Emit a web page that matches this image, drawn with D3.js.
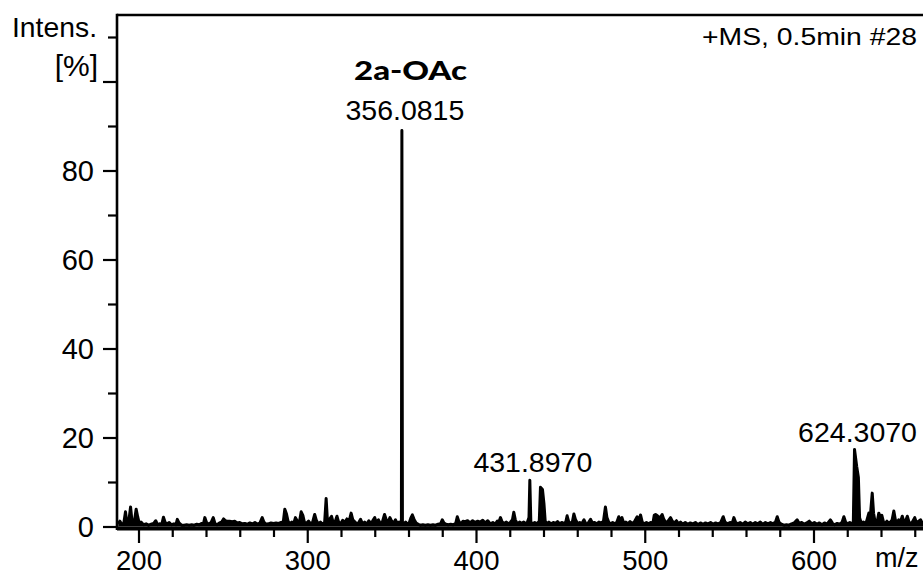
<!DOCTYPE html>
<html>
<head>
<meta charset="utf-8">
<script src="https://cdn.jsdelivr.net/npm/d3@7/dist/d3.min.js"></script>
<style>
  html, body { margin: 0; padding: 0; background: #fff; }
  svg { display: block; }
  text { font-family: "Liberation Sans", Arial, sans-serif; fill: #000; }
</style>
</head>
<body>
<svg id="chart" width="923" height="574"></svg>
<script>
// Profile spectrum: [m/z, relative intensity %]
const profile = [
  [188, 0.6], [189, 1.2], [190, 0.5], [191.3, 0.8], [192.3, 3.3], [193.2, 0.6], [194.2, 1.0],
  [195.3, 4.4], [196.2, 1.0], [197.4, 0.7], [198.6, 3.9], [199.5, 2.2], [200.5, 0.6], [201.5, 1.0],
  [203, 0.4], [204.5, 0.6], [206, 0.3], [207.5, 0.5], [209, 0.7], [210.2, 1.3], [211.3, 0.4],
  [212.5, 0.6], [213.8, 0.5], [214.8, 2.1], [215.8, 0.9], [217, 0.6], [218.2, 0.9], [219.5, 0.4],
  [221, 0.6], [222.2, 0.4], [223, 1.6], [224, 0.8], [225.5, 0.3], [227, 0.3], [228.5, 0.4],
  [230, 0.3], [231.5, 0.4], [233, 0.3], [234.5, 0.5], [236, 0.4], [237.5, 0.7], [238.5, 0.6],
  [239.3, 2.0], [240.3, 0.9], [241.5, 0.5], [243, 0.9], [244.3, 2.0], [245.3, 0.7], [246.5, 0.4],
  [248, 0.8], [249.3, 1.0], [250.4, 1.7], [251.5, 1.3], [252.5, 1.2], [254, 1.2], [255.5, 1.1],
  [257, 1.2], [258.5, 0.8], [260, 0.9], [261.5, 0.6], [263, 0.7], [264.5, 0.5], [266, 0.8],
  [267.5, 0.6], [269, 0.9], [270.5, 0.5], [272, 0.8], [273.3, 2.0], [274.3, 1.0], [275.5, 0.5],
  [277, 0.6], [278.5, 0.8], [280, 0.7], [281.5, 0.8], [283, 0.7], [284.5, 0.9], [285.8, 1.0],
  [286.7, 3.9], [287.7, 2.8], [288.6, 1.2], [289.6, 0.6], [290.8, 1.0], [292, 0.7], [293, 2.0],
  [294, 1.3], [295.2, 0.6], [296.4, 3.3], [297.4, 2.5], [298.3, 1.0], [299.5, 0.7], [300.8, 1.2],
  [302, 0.6], [303.2, 1.0], [304.4, 2.7], [305.3, 1.5], [306.5, 0.6], [307.8, 1.0], [309, 0.5],
  [310.3, 0.9], [311.2, 6.3], [312, 1.0], [313, 1.5], [314.4, 2.3], [315.4, 0.8], [316.5, 1.0],
  [317.6, 2.3], [318.6, 1.0], [319.8, 0.6], [321, 1.4], [322.2, 0.9], [323.5, 1.7], [324.7, 1.0],
  [326, 3.0], [327, 1.5], [328.3, 1.0], [329.5, 0.5], [330.5, 0.9], [331.6, 1.6], [332.8, 0.6],
  [334, 1.0], [335.3, 0.5], [336.5, 1.3], [337.5, 0.7], [338.7, 1.2], [340, 2.0], [341, 0.8],
  [342.2, 1.5], [343.3, 0.7], [344.5, 1.0], [345.8, 2.7], [346.8, 1.5], [347.8, 0.8], [349, 2.0],
  [350, 1.2], [351, 0.6], [352.3, 1.5], [353.4, 0.7], [354.5, 1.0], [355.5, 0.6], [355.8, 1.0],
  [356.08, 89.0], [356.4, 1.0], [357.2, 0.6], [358.3, 1.0], [359.5, 0.5], [360.5, 0.9], [361.5, 2.0],
  [362.3, 2.6], [363.3, 1.6], [364.5, 0.8], [365.8, 0.5], [367, 0.3], [368.5, 0.4], [370, 0.3],
  [371.5, 0.4], [373, 0.3], [374.5, 0.4], [376, 0.3], [377.5, 0.5], [379, 0.6], [380, 1.5],
  [381, 0.8], [382.3, 0.5], [383.5, 0.4], [385, 0.5], [386.5, 0.4], [388, 0.7], [388.9, 2.2],
  [389.8, 1.2], [391, 0.5], [392.3, 1.2], [393.5, 1.1], [395, 1.3], [396.5, 0.8], [398, 1.3],
  [399.5, 0.9], [401, 1.2], [402.5, 1.0], [404, 1.4], [405.5, 0.8], [407, 1.3], [408.5, 0.6],
  [410, 0.9], [411.3, 0.5], [412.6, 1.2], [413.6, 1.0], [414.5, 2.0], [415.5, 1.0], [416.8, 0.7],
  [418, 1.0], [419.3, 0.6], [420.5, 1.0], [421.6, 1.5], [422.4, 3.2], [423.3, 1.5], [424.5, 0.6],
  [425.8, 1.0], [427, 0.7], [428.3, 1.0], [429.3, 0.6], [430.5, 1.0], [431.4, 2.0], [431.897, 10.4],
  [432.5, 1.0], [433.5, 0.6], [434.8, 0.9], [436, 0.6], [437.5, 1.2], [438.2, 8.8], [439.4, 8.3],
  [440.3, 5.0], [441, 1.2], [442, 0.6], [443.2, 1.0], [444.5, 0.6], [445.8, 0.9], [447, 0.7],
  [448.3, 1.1], [449.5, 0.6], [450.8, 0.9], [452, 0.7], [453.2, 1.0], [454, 2.4], [455, 1.0],
  [456.2, 0.7], [457.2, 1.2], [458, 2.8], [459, 1.5], [460.3, 0.6], [461.5, 0.9], [462.7, 0.6],
  [464, 1.5], [465, 0.7], [466.2, 0.6], [467.9, 1.6], [469, 0.8], [470.3, 0.9], [471.5, 0.6],
  [472.8, 1.0], [474, 0.8], [475.5, 1.1], [476.7, 4.4], [477.6, 2.0], [478.6, 1.0], [479.8, 0.6],
  [481, 0.9], [482.3, 0.6], [483.5, 1.0], [484.6, 2.2], [485.5, 1.2], [486.5, 2.0], [487.5, 0.8],
  [488.8, 1.0], [490, 0.6], [491.3, 1.1], [492.5, 0.7], [493.8, 1.0], [495.5, 2.2], [496.5, 1.0],
  [497.5, 2.6], [498.5, 1.0], [499.8, 0.6], [501, 0.9], [502.3, 0.6], [503.5, 0.9], [504.8, 0.7],
  [505.6, 2.5], [506.4, 2.7], [507.5, 2.4], [508.5, 2.0], [509.5, 2.2], [510.3, 2.7], [511.3, 1.6],
  [512.5, 0.9], [513.8, 1.2], [515.3, 2.0], [516.3, 1.2], [517.5, 0.8], [518.8, 1.3], [520, 0.6],
  [521.2, 1.0], [522.5, 0.5], [524, 0.9], [525.5, 0.5], [527, 0.8], [528.5, 0.6], [530, 0.9],
  [531.5, 0.4], [533, 0.8], [534.5, 0.5], [536, 0.8], [537.5, 0.6], [539, 0.9], [540.5, 0.5],
  [542, 0.8], [543.5, 0.6], [545, 0.9], [546.5, 2.2], [547.5, 1.0], [549, 0.6], [550.5, 0.9],
  [551.8, 0.7], [552.8, 2.0], [553.8, 1.0], [555, 0.6], [556.5, 0.9], [558, 0.5], [559.5, 1.0],
  [561, 0.6], [562.5, 0.9], [564, 0.5], [565.5, 0.9], [567, 0.6], [568.5, 1.0], [570, 0.5],
  [571.5, 0.9], [573, 0.6], [574.5, 0.9], [576, 0.6], [577.5, 1.0], [578.5, 2.2], [579.5, 1.0],
  [581, 0.5], [582.5, 0.3], [584, 0.4], [585.5, 0.3], [587, 0.6], [588.5, 0.8], [590.3, 1.5],
  [591.5, 0.7], [593, 0.9], [594.5, 0.5], [596, 0.8], [597.5, 1.2], [599, 0.6], [600.5, 0.9],
  [602, 0.5], [603.5, 0.8], [605, 0.4], [606.5, 0.8], [608, 0.5], [610, 1.5], [611.3, 0.7],
  [612.5, 0.4], [614, 0.7], [615.5, 0.5], [617, 1.0], [618, 2.2], [619, 1.0], [620.3, 0.6],
  [621.5, 0.9], [622.5, 0.6], [623.6, 1.0], [624.307, 17.3], [625.6, 13.5], [626.6, 11.0],
  [627.3, 2.0], [628.3, 0.8], [629.5, 1.0], [630.5, 0.7], [631.5, 1.2], [632.8, 3.0], [633.6, 2.0],
  [634.8, 7.5], [635.6, 3.0], [636.5, 1.0], [637.8, 1.2], [638.7, 3.0], [639.7, 2.0], [640.5, 2.5],
  [641.5, 1.0], [642.5, 0.8], [643.5, 1.2], [644.5, 0.7], [645.6, 1.0], [646.6, 1.5], [647.6, 3.5],
  [648.5, 1.5], [649.5, 0.8], [650.5, 1.5], [651.5, 1.0], [652.6, 2.3], [653.6, 1.0], [654.6, 1.3],
  [655.6, 2.3], [656.6, 1.0], [657.6, 0.6], [658.6, 1.0], [660, 2.0], [661, 0.8], [662.3, 1.2],
  [663.5, 1.5], [664.5, 0.7], [665.5, 1.0]
];

// Annotated peaks: m/z and intensity (%)
const peakMz = [356.0815, 431.8970, 624.3070];
const peakIntensity = [89.0, 10.4, 17.3];
const peakText = ["356.0815", "431.8970", "624.3070"];

const xMajorTicks = [200, 300, 400, 500, 600];
const xMinorTicks = [220, 240, 260, 280, 320, 340, 360, 380, 420, 440, 460, 480,
                     520, 540, 560, 580, 620, 640, 660];
const yMajorTicks = [0, 20, 40, 60, 80, 100];
const yMinorTicks = [10, 30, 50, 70, 90, 110];

const compoundLabel = "2a-OAc";
const scanLabel = "+MS, 0.5min #28";
const xAxisTitle = "m/z";
const yAxisTitle = ["Intens.", "[%]"];

const svg = d3.select("#chart");
const H = 574;
const plotLeft = 117, plotTop = 15, plotRight = 930, baseY = 526.5;

const x = d3.scaleLinear().domain([200, 600]).range([138.5, 813.5]);
const y = d3.scaleLinear().domain([0, 100]).range([baseY, baseY - 445]);

svg.append("defs").append("clipPath").attr("id", "plotClip")
  .append("rect").attr("x", plotLeft).attr("y", plotTop)
  .attr("width", plotRight - plotLeft).attr("height", H - plotTop);

// Spectrum: filled profile with a heavy outline
const plot = svg.append("g").attr("clip-path", "url(#plotClip)");
const area = d3.area().x(d => x(d[0])).y0(y(0)).y1(d => y(d[1]));
const line = d3.line().x(d => x(d[0])).y(d => y(d[1]));
plot.append("path").datum(profile).attr("d", area).attr("fill", "#000");
plot.append("path").datum(profile).attr("d", line)
  .attr("fill", "none").attr("stroke", "#000").attr("stroke-width", 3).attr("stroke-linejoin", "round");
plot.append("line").attr("x1", plotLeft).attr("x2", plotRight)
  .attr("y1", y(0) + 2).attr("y2", y(0) + 2)
  .attr("stroke", "#000").attr("stroke-width", 4);

// X axis (ticks below the baseline)
const xAxisY = 530;
const gxMaj = svg.append("g").attr("transform", `translate(0,${xAxisY})`)
  .call(d3.axisBottom(x).tickValues(xMajorTicks).tickSize(13).tickFormat(d3.format("d")));
const gxMin = svg.append("g").attr("transform", `translate(0,${xAxisY})`)
  .call(d3.axisBottom(x).tickValues(xMinorTicks).tickSize(7).tickFormat(""));
[gxMaj, gxMin].forEach(g => {
  g.select(".domain").remove();
  g.selectAll(".tick line").attr("stroke", "#000").attr("stroke-width", 2.2);
});
gxMaj.selectAll(".tick text").attr("y", 39.5).attr("dy", 0)
  .style("font-size", "27.5px").attr("fill", "#000");

// Y axis
const gyMaj = svg.append("g").attr("transform", `translate(${plotLeft},0)`)
  .call(d3.axisLeft(y).tickValues(yMajorTicks).tickSize(14).tickPadding(9)
    .tickFormat(d => d <= 80 ? d : ""));
const gyMin = svg.append("g").attr("transform", `translate(${plotLeft},0)`)
  .call(d3.axisLeft(y).tickValues(yMinorTicks).tickSize(9).tickFormat(""));
[gyMaj, gyMin].forEach(g => {
  g.select(".domain").remove();
  g.selectAll(".tick line").attr("stroke", "#000").attr("stroke-width", 2.2);
});
gyMaj.selectAll(".tick text").attr("dy", "0.36em").style("font-size", "29px").attr("fill", "#000");

// Frame: left axis and top border
svg.append("line").attr("x1", plotLeft).attr("x2", plotLeft).attr("y1", plotTop - 1.2).attr("y2", xAxisY)
  .attr("stroke", "#000").attr("stroke-width", 2.6);
svg.append("line").attr("x1", plotLeft).attr("x2", plotRight).attr("y1", plotTop).attr("y2", plotTop)
  .attr("stroke", "#000").attr("stroke-width", 2.6);

// Axis titles
svg.append("text").attr("x", 97).attr("y", 37).attr("text-anchor", "end")
  .attr("textLength", 85).attr("lengthAdjust", "spacingAndGlyphs")
  .style("font-size", "28px").text(yAxisTitle[0]);
svg.append("text").attr("x", 98).attr("y", 75.5).attr("text-anchor", "end")
  .style("font-size", "30px").text(yAxisTitle[1]);
svg.append("text").attr("x", 875).attr("y", 567)
  .style("font-size", "27px").text(xAxisTitle);

// Scan info and compound name
svg.append("text").attr("x", 702).attr("y", 45)
  .attr("textLength", 215).attr("lengthAdjust", "spacingAndGlyphs")
  .style("font-size", "24px").text(scanLabel);
svg.append("text").attr("x", 354).attr("y", 80)
  .attr("textLength", 113).attr("lengthAdjust", "spacingAndGlyphs")
  .style("font-family", "Lato, 'Open Sans', sans-serif").style("font-weight", "900")
  .style("font-size", "27px").text(compoundLabel);

// Peak annotations
svg.append("g").selectAll("text").data(peakMz).join("text")
  .attr("x", d => x(d) + 3)
  .attr("y", (d, i) => y(peakIntensity[i]) - (i === 0 ? 10 : 8))
  .attr("text-anchor", "middle")
  .style("font-size", "28.5px")
  .text((d, i) => peakText[i]);
</script>
</body>
</html>
